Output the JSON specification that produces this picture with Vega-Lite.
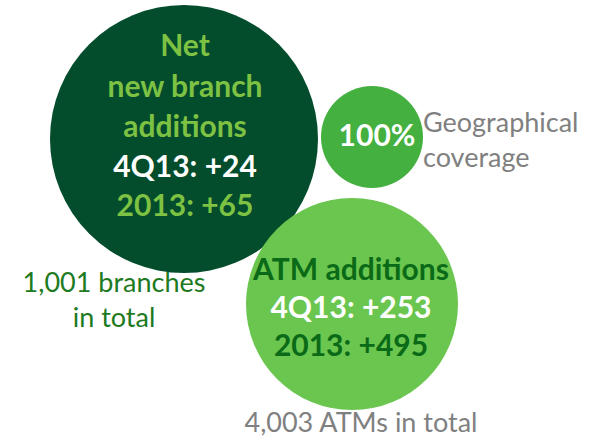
{
  "$schema": "https://vega.github.io/schema/vega-lite/v6.json",
  "width": 595,
  "height": 441,
  "padding": 0,
  "autosize": {"type": "none"},
  "background": "white",
  "config": {"view": {"stroke": null}},
  "datasets": {
    "bubbles": [
      {"name": "Branches", "x": 184, "y": 139, "radius": 134},
      {"name": "Coverage", "x": 372, "y": 137, "radius": 51},
      {"name": "ATMs", "x": 352, "y": 304, "radius": 106}
    ],
    "bold": [
      {"kind": "green", "x": 185, "y": 47, "label": "Net"},
      {"kind": "green", "x": 185, "y": 88, "label": "new branch"},
      {"kind": "green", "x": 185, "y": 128, "label": "additions"},
      {"kind": "white", "x": 185, "y": 168, "label": "4Q13: +24"},
      {"kind": "green", "x": 185, "y": 207, "label": "2013: +65"},
      {"kind": "white", "x": 377, "y": 137, "label": "100%"},
      {"kind": "darkgreen", "x": 351, "y": 271, "label": "ATM additions"},
      {"kind": "white", "x": 351, "y": 309, "label": "4Q13: +253"},
      {"kind": "darkgreen", "x": 351, "y": 347, "label": "2013: +495"}
    ],
    "normal": [
      {"kind": "branchnote", "x": 114, "y": 284, "label": "1,001 branches"},
      {"kind": "branchnote", "x": 114, "y": 319, "label": "in total"},
      {"kind": "gray", "x": 361, "y": 424, "label": "4,003 ATMs in total"}
    ],
    "side": [
      {"x": 423, "y": 124, "label": "Geographical"},
      {"x": 423, "y": 159, "label": "coverage"}
    ]
  },
  "layer": [
    {
      "data": {"name": "bubbles"},
      "mark": {"type": "point", "filled": true, "opacity": 1, "shape": "circle", "strokeWidth": 0},
      "encoding": {
        "x": {"field": "x", "type": "quantitative", "scale": {"domain": [0, 595]}, "axis": null},
        "y": {"field": "y", "type": "quantitative", "scale": {"domain": [441, 0]}, "axis": null},
        "size": {"field": "radius", "type": "quantitative", "scale": {"type": "pow", "exponent": 2, "domain": [0, 134], "range": [0, 71824], "nice": false, "zero": true}, "legend": null},
        "color": {"field": "name", "type": "nominal", "scale": {"domain": ["Branches", "Coverage", "ATMs"], "range": ["#034C2C", "#43B03F", "#6AC64E"]}, "legend": null}
      }
    },
    {
      "data": {"name": "bold"},
      "mark": {"type": "text", "font": "Lato", "fontSize": 30, "fontWeight": "bold", "baseline": "middle", "align": "center"},
      "encoding": {
        "x": {"field": "x", "type": "quantitative", "scale": {"domain": [0, 595]}, "axis": null},
        "y": {"field": "y", "type": "quantitative", "scale": {"domain": [441, 0]}, "axis": null},
        "text": {"field": "label"},
        "color": {"field": "kind", "type": "nominal", "scale": {"domain": ["green", "white", "darkgreen"], "range": ["#7DC242", "#FFFFFF", "#0A6A17"]}, "legend": null}
      }
    },
    {
      "data": {"name": "normal"},
      "mark": {"type": "text", "font": "Lato", "fontSize": 27, "baseline": "middle", "align": "center"},
      "encoding": {
        "x": {"field": "x", "type": "quantitative", "scale": {"domain": [0, 595]}, "axis": null},
        "y": {"field": "y", "type": "quantitative", "scale": {"domain": [441, 0]}, "axis": null},
        "text": {"field": "label"},
        "color": {"field": "kind", "type": "nominal", "scale": {"domain": ["branchnote", "gray"], "range": ["#1E7A1E", "#808080"]}, "legend": null}
      }
    },
    {
      "data": {"name": "side"},
      "mark": {"type": "text", "font": "Lato", "fontSize": 27, "baseline": "middle", "align": "left", "color": "#808080"},
      "encoding": {
        "x": {"field": "x", "type": "quantitative", "scale": {"domain": [0, 595]}, "axis": null},
        "y": {"field": "y", "type": "quantitative", "scale": {"domain": [441, 0]}, "axis": null},
        "text": {"field": "label"}
      }
    }
  ],
  "resolve": {"scale": {"color": "independent", "size": "independent"}}
}
